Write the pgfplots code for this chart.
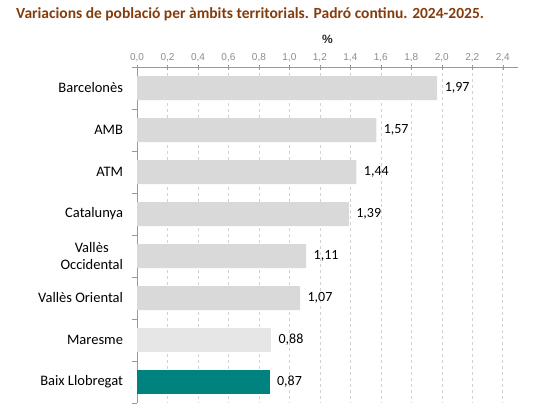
\documentclass[border=0pt]{standalone}
\usepackage{fontspec}
\setmainfont{Carlito}
\newfontfamily\arialfont{Liberation Sans}
\usepackage{pgfplots}
\pgfplotsset{compat=1.18}
\definecolor{titlebrown}{HTML}{843C0C}
\definecolor{bargray}{HTML}{D9D9D9}
\definecolor{barlight}{HTML}{E6E6E6}
\definecolor{barteal}{HTML}{00827F}
\definecolor{tickgray}{HTML}{8C8C8C}

\begin{document}
\begin{tikzpicture}
\path[use as bounding box] (0,0) rectangle (550bp,-415bp);
\node[anchor=west, font=\fontsize{15.5bp}{18bp}\selectfont\bfseries, text=titlebrown, inner sep=0pt]
    at (16bp,-14bp) {Variacions de població per àmbits territorials. Padró continu. 2024-2025.};
\begin{axis}[
    at={(137bp,-403bp)}, anchor=south west,
    scale only axis,
    width=381bp, height=336bp,
    xbar, bar width=24bp,
    xmin=0, xmax=2.5,
    ymin=-0.5, ymax=7.5,
    y dir=reverse,
    axis x line*=top,
    axis y line*=left,
    axis line style={draw=gray!80, line width=0.8pt},
    xtick={0,0.2,...,2.41},
    xticklabel style={text=tickgray, font=\arialfont\fontsize{10bp}{12bp}\selectfont, yshift=-1bp,
        /pgf/number format/.cd, fixed, fixed zerofill, precision=1, use comma, assume math mode=true},
    xlabel={\textbf{\%}},
    xlabel style={font=\arialfont\fontsize{12bp}{14bp}\selectfont, text=black!85, yshift=3bp},
    xmajorgrids,
    grid style={dashed, gray!35, line width=0.6pt},
    major x tick style={draw=gray!80},
    tick align=center,
    major tick length=5bp,
    ytick={0,...,7},
    yticklabels={Barcelonès, AMB, ATM, Catalunya, {Vallès\\Occidental}, Vallès Oriental, Maresme, Baix Llobregat},
    yticklabel style={font=\fontsize{14.5bp}{17.5bp}\selectfont, align=center, xshift=-8bp},
    major y tick style={draw=none},
    minor ytick={-0.5,0.5,...,7.5},
    minor y tick style={draw=gray!80, line width=0.8pt, xshift=-2.5bp},
    minor tick length=5bp,
    nodes near coords,
    nodes near coords style={font=\fontsize{14bp}{16bp}\selectfont, text=black, xshift=4bp,
        /pgf/number format/.cd, fixed, fixed zerofill, precision=2, use comma, assume math mode=true},
    clip=false,
]
\addplot[fill=bargray, draw=none, bar shift=0pt] coordinates {
    (1.97,0) (1.57,1) (1.44,2) (1.39,3) (1.11,4) (1.07,5)
};
\addplot[fill=barlight, draw=none, bar shift=0pt] coordinates {
    (0.88,6)
};
\addplot[fill=barteal, draw=none, bar shift=0pt] coordinates {
    (0.87,7)
};
\end{axis}
\end{tikzpicture}
\end{document}
